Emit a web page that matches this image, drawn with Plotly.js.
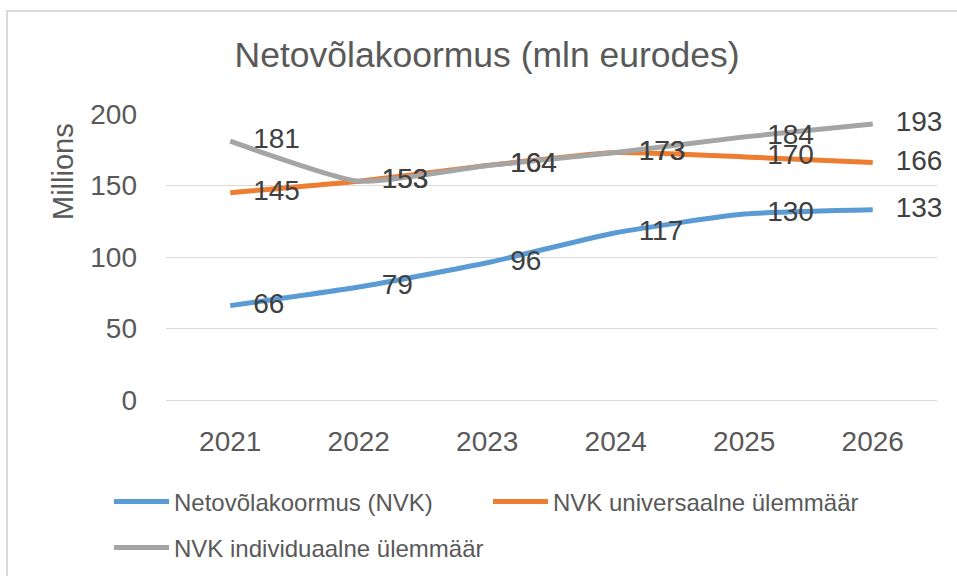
<!DOCTYPE html>
<html>
<head>
<meta charset="utf-8">
<script src="https://cdn.plot.ly/plotly-3.0.1.min.js"></script>
<style>
  html, body { margin: 0; padding: 0; background: #fff; }
  #wrap { position: relative; width: 957px; height: 576px; overflow: hidden; }
  #chart { width: 957px; height: 576px; }
  #frame { position: absolute; left: 6px; top: 10px; right: -10px; bottom: -10px;
           border-left: 2px solid #d9d9d9; border-top: 2px solid #d9d9d9; pointer-events: none; }
</style>
</head>
<body>
<div id="wrap">
  <div id="chart"></div>
  <div id="frame"></div>
</div>
<script>
const years = ['2021', '2022', '2023', '2024', '2025', '2026'];
const nvk = [66, 79, 96, 117, 130, 133];
const universaalne = [145, 153, 164, 173, 170, 166];
const individuaalne = [181, 153, 164, 173, 184, 193];
const seriesNames = ['Netovõlakoormus (NVK)', 'NVK universaalne ülemmäär', 'NVK individuaalne ülemmäär'];
const yTicks = [0, 50, 100, 150, 200];

const FONT = 'Liberation Sans, Arial, sans-serif';
const colors = ['#5B9BD5', '#ED7D31', '#A5A5A5'];
const values = [nvk, universaalne, individuaalne];
const legends = ['legend', 'legend2', 'legend3'];

const traces = values.map((v, i) => ({
  type: 'scatter',
  mode: 'lines+markers+text',
  x: years,
  y: v,
  name: seriesNames[i],
  legend: legends[i],
  line: { color: colors[i], width: 5, shape: 'spline', smoothing: 0.5 },
  marker: { size: 35, color: 'rgba(0,0,0,0)', line: { width: 0 } },
  text: v.map(String),
  textposition: 'middle right',
  textfont: { family: FONT, size: 28, color: '#404040' },
  cliponaxis: false,
  hoverinfo: 'x+y+name'
}));

const H = 576;
const legendBase = {
  orientation: 'h',
  xref: 'container', yref: 'container',
  xanchor: 'left', yanchor: 'middle',
  font: { family: FONT, size: 24, color: '#595959' },
  itemwidth: 55,
  bgcolor: 'rgba(0,0,0,0)',
  borderwidth: 0
};

const layout = {
  width: 957, height: 576,
  margin: { l: 166, r: 20, t: 114, b: 176 },
  paper_bgcolor: '#ffffff',
  plot_bgcolor: '#ffffff',
  showlegend: true,
  title: {
    text: 'Netovõlakoormus (mln eurodes)',
    font: { family: FONT, size: 35.5, color: '#595959' },
    xref: 'container', x: 0.509, xanchor: 'center',
    yref: 'container', y: 1 - 55 / H, yanchor: 'middle'
  },
  xaxis: {
    type: 'category',
    categoryarray: years,
    range: [-0.5, 5.5],
    showgrid: false,
    showline: false,
    zeroline: false,
    ticks: '',
    ticklabelstandoff: 22,
    tickfont: { family: FONT, size: 28, color: '#595959' }
  },
  yaxis: {
    range: [0, 200],
    tickvals: yTicks,
    ticktext: yTicks.map(String),
    showgrid: true,
    gridcolor: '#d9d9d9',
    gridwidth: 1,
    zeroline: true,
    zerolinecolor: '#d9d9d9',
    zerolinewidth: 1,
    showline: false,
    ticks: '',
    ticklabelstandoff: 28,
    tickfont: { family: FONT, size: 28, color: '#595959' }
  },
  annotations: [{
    text: 'Millions',
    xref: 'paper', yref: 'paper',
    x: (63 - 166) / 771, y: (400 - 172) / 286,
    xanchor: 'center', yanchor: 'middle',
    textangle: -90,
    showarrow: false,
    font: { family: FONT, size: 29, color: '#595959' }
  }],
  legend: Object.assign({}, legendBase, { x: 109 / 957, y: 1 - 502 / H }),
  legend2: Object.assign({}, legendBase, { x: 488 / 957, y: 1 - 502 / H }),
  legend3: Object.assign({}, legendBase, { x: 109 / 957, y: 1 - 548 / H })
};

Plotly.newPlot('chart', traces, layout, { displayModeBar: false, responsive: false });
</script>
</body>
</html>
